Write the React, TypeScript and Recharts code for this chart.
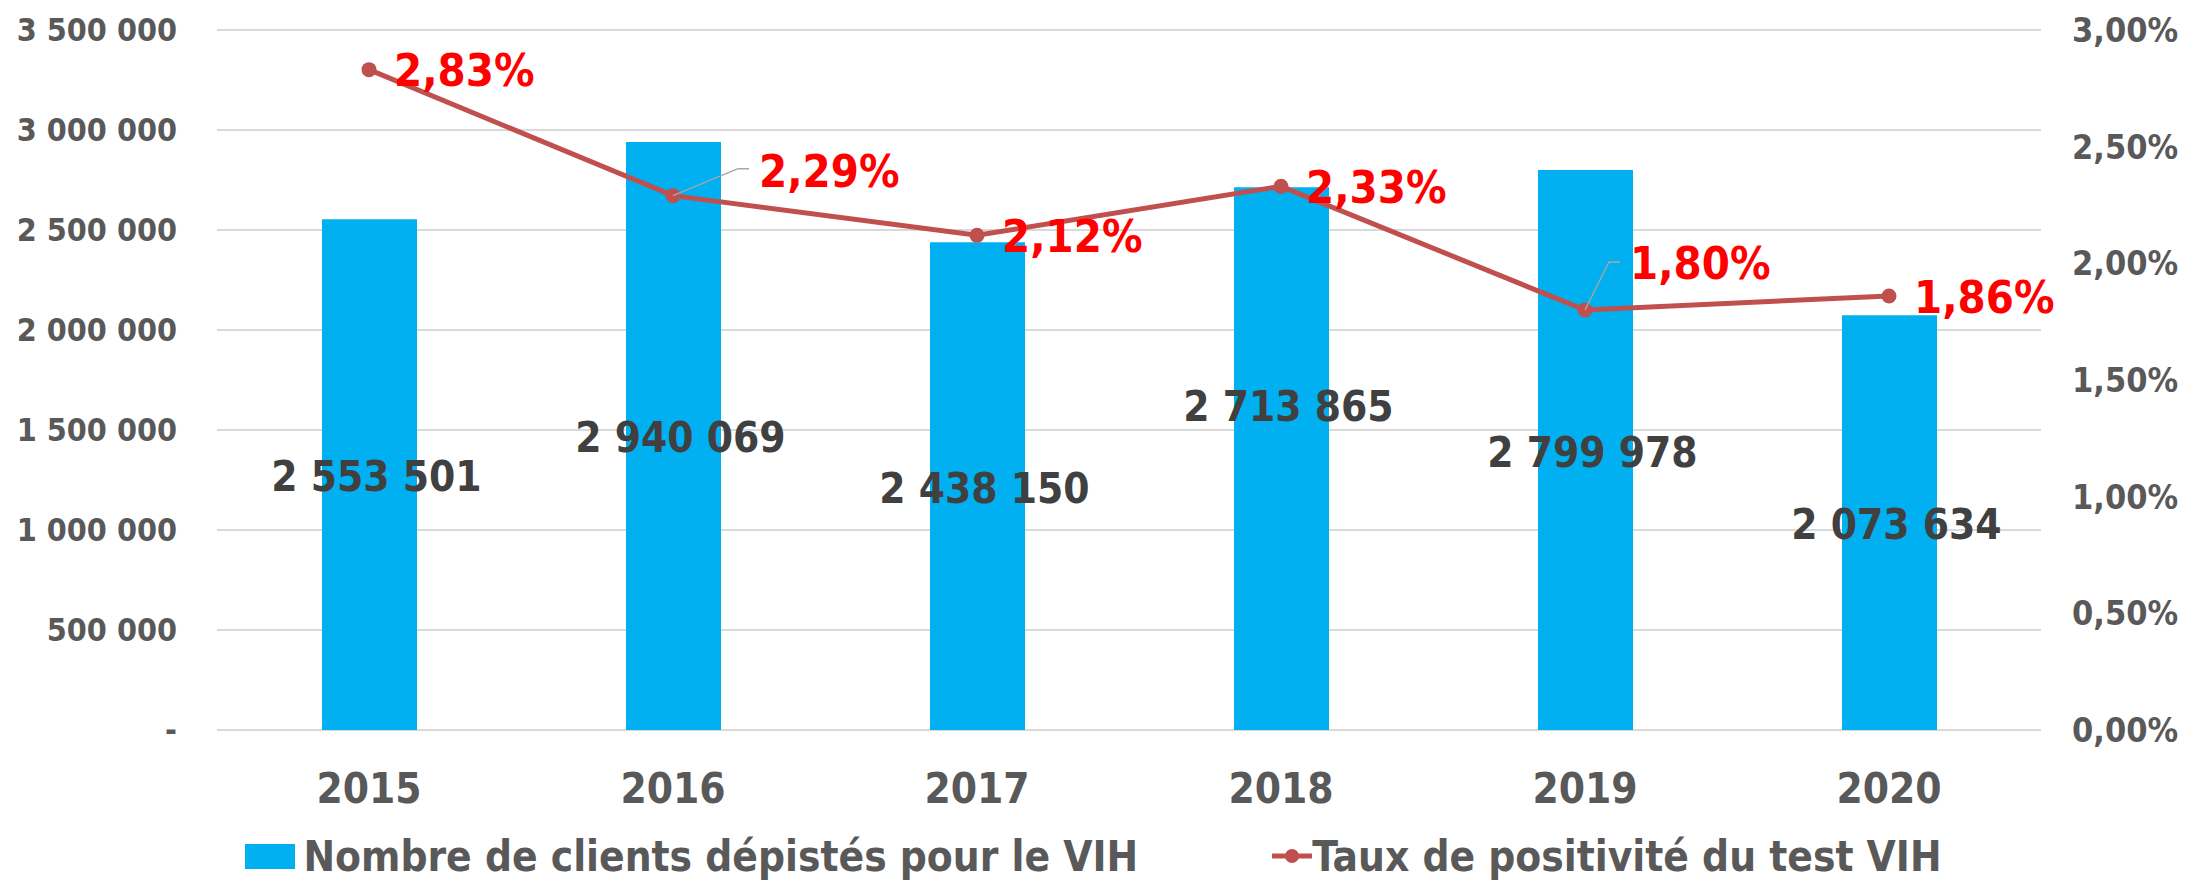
import { ComposedChart, Bar, Line, XAxis, YAxis, CartesianGrid, Legend, LabelList } from "recharts";

const years = ["2015", "2016", "2017", "2018", "2019", "2020"];
const clientsTested = [2553501, 2940069, 2438150, 2713865, 2799978, 2073634];
const positivityRate = [2.83, 2.29, 2.12, 2.33, 1.8, 1.86];
const leftTicks = [0, 500000, 1000000, 1500000, 2000000, 2500000, 3000000, 3500000];
const rightTicks = [0, 0.5, 1, 1.5, 2, 2.5, 3];

const data = years.map((year, i) => ({ year, clients: clientsTested[i], rate: positivityRate[i] }));

const FONT = "'DejaVu Sans Condensed', 'DejaVu Sans', sans-serif";
const BLUE = "#00B0F0";
const RED_LINE = "#C0504D";
const AXIS_GREY = "#595959";

const groupDigits = (v: number) => String(v).replace(/\B(?=(\d{3})+(?!\d))/g, " ");
const pct = (v: number) => v.toFixed(2).replace(".", ",") + "%";

// the 2018 count label was dragged up in the original
const barLabelLift = (i: number) => (i === 3 ? -54 : 0);

function BarValueLabel(props: any) {
  const { x, y, width, height, value, index } = props;
  return (
    <text
      x={x + width / 2 + 7}
      y={y + height / 2 + 2 + barLabelLift(index)}
      textAnchor="middle"
      dominantBaseline="central"
      fill="#404040"
      fontSize={42}
      fontWeight="bold"
      fontFamily={FONT}
    >
      {groupDigits(value)}
    </text>
  );
}

function RateLabel(props: any) {
  const { x, y, value, index } = props;
  // 2016 and 2019 labels were moved off the point, with a leader line
  let dx = 25;
  let dy = 1;
  let leader: string | null = null;
  if (index === 1) {
    dx = 86;
    dy = -24;
    leader = `${x},${y} ${x + 65},${y - 27} ${x + 76},${y - 27}`;
  } else if (index === 4) {
    dx = 45;
    dy = -47;
    leader = `${x},${y} ${x + 24},${y - 48} ${x + 35},${y - 48}`;
  }
  return (
    <g>
      {leader && <polyline points={leader} fill="none" stroke="#A6A6A6" strokeWidth={1.5} />}
      <text
        x={x + dx}
        y={y + dy}
        textAnchor="start"
        dominantBaseline="central"
        fill="#FF0000"
        fontSize={45}
        fontWeight="bold"
        fontFamily={FONT}
      >
        {pct(value)}
      </text>
    </g>
  );
}

function YearTick(props: any) {
  const { x, y, payload } = props;
  return (
    <text x={x} y={y + 58} textAnchor="middle" dominantBaseline="central" fill={AXIS_GREY} fontSize={42} fontWeight="bold" fontFamily={FONT}>
      {payload.value}
    </text>
  );
}

function LegendContent() {
  return (
    <div
      style={{
        display: "flex",
        justifyContent: "center",
        alignItems: "center",
        height: 48,
        paddingTop: 12,
        paddingBottom: 4,
        fontSize: 42,
        fontWeight: "bold",
        color: AXIS_GREY,
        fontFamily: FONT,
        whiteSpace: "nowrap",
      }}
    >
      <span style={{ display: "inline-block", width: 50, height: 25, background: BLUE, marginRight: 8 }} />
      <span>Nombre de clients dépistés pour le VIH</span>
      <svg width={40} height={20} style={{ marginLeft: 134 }}>
        <line x1={0} y1={10} x2={40} y2={10} stroke={RED_LINE} strokeWidth={5} />
        <circle cx={20} cy={10} r={7} fill={RED_LINE} />
      </svg>
      <span>Taux de positivité du test VIH</span>
    </div>
  );
}

export default function App() {
  return (
    <div style={{ position: "absolute", left: 0, top: 0, background: "#fff" }}>
      <ComposedChart
        width={2187}
        height={884}
        data={data}
        margin={{ top: 30, right: 0, bottom: 0, left: 0 }}
        style={{ fontFamily: FONT }}
      >
        <CartesianGrid yAxisId="count" vertical={false} stroke="#D9D9D9" strokeWidth={2} />
        <XAxis dataKey="year" height={90} axisLine={false} tickLine={false} tickSize={0} tickMargin={0} tick={<YearTick />} interval={0} />
        <YAxis
          yAxisId="count"
          orientation="left"
          width={217}
          domain={[0, 3500000]}
          ticks={leftTicks}
          axisLine={false}
          tickLine={false}
          tickSize={0}
          tickMargin={40}
          tickFormatter={(v: number) => (v === 0 ? "-" : groupDigits(v))}
          tick={{ fill: AXIS_GREY, fontSize: 32, fontWeight: "bold", fontFamily: FONT }}
        />
        <YAxis
          yAxisId="rate"
          orientation="right"
          width={146}
          domain={[0, 3]}
          ticks={rightTicks}
          axisLine={false}
          tickLine={false}
          tickSize={0}
          tickMargin={31}
          tickFormatter={(v: number) => pct(v)}
          tick={{ fill: AXIS_GREY, fontSize: 34, fontWeight: "bold", fontFamily: FONT }}
        />
        <Legend verticalAlign="bottom" content={<LegendContent />} wrapperStyle={{ left: 0, width: 2187, bottom: 0 }} />
        <Bar yAxisId="count" dataKey="clients" fill={BLUE} barSize={95} isAnimationActive={false}>
          <LabelList dataKey="clients" content={<BarValueLabel />} />
        </Bar>
        <Line
          yAxisId="rate"
          type="linear"
          dataKey="rate"
          stroke={RED_LINE}
          strokeWidth={5}
          dot={{ r: 7.5, fill: RED_LINE, stroke: "none" }}
          activeDot={false}
          isAnimationActive={false}
        >
          <LabelList dataKey="rate" content={<RateLabel />} />
        </Line>
      </ComposedChart>
    </div>
  );
}
